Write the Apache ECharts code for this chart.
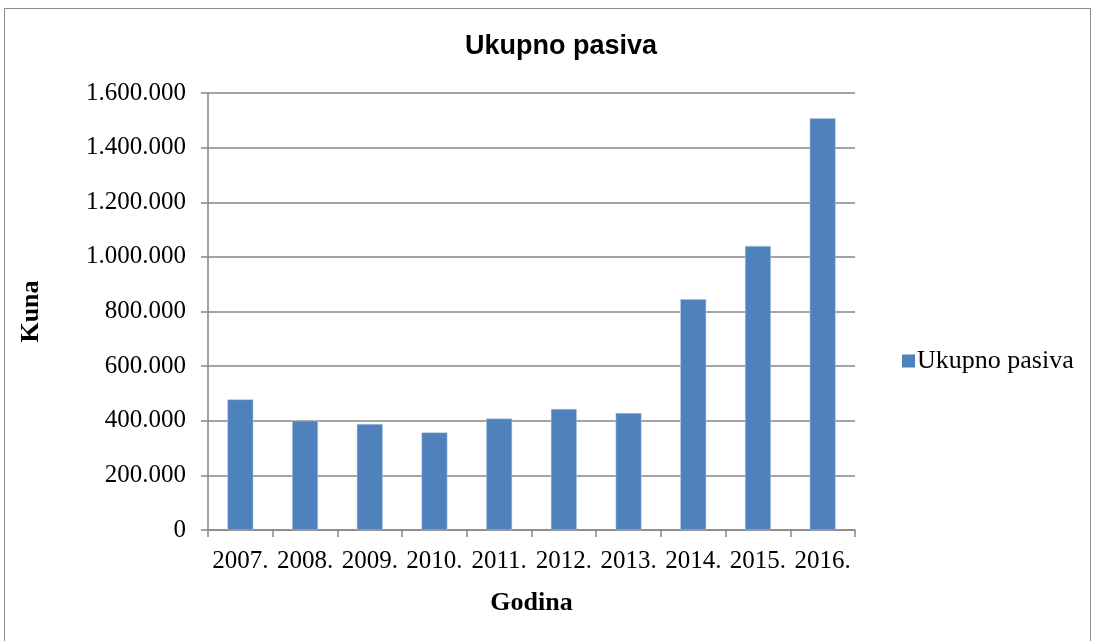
<!DOCTYPE html>
<html>
<head>
<meta charset="utf-8">
<script src="https://cdn.jsdelivr.net/npm/echarts@6/dist/echarts.min.js"></script>
<style>
  html, body { margin: 0; padding: 0; background: #fff; }
  #chart { width: 1094px; height: 641px; }
  #frame { position: absolute; left: 4px; top: 8px; width: 1087px; height: 640px; border: 1px solid #8c8c8c; box-sizing: border-box; pointer-events: none; }
</style>
</head>
<body>
<div id="chart"></div>
<div id="frame"></div>
<script>
    // podaci
    let godine = ['2007.', '2008.', '2009.', '2010.', '2011.', '2012.', '2013.', '2014.', '2015.', '2016.'];
    let pasiva = [478000, 400000, 388000, 357000, 408000, 443000, 428000, 845000, 1040000, 1508000];

    let chart = echarts.init(document.getElementById('chart'));

    function fmt(v) {
        return String(v).replace(/\B(?=(\d{3})+(?!\d))/g, '.');
    }

    let serif = '"Liberation Serif", "Times New Roman", serif';
    let gray = '#868686';

    let option = {
        animation: false,
        title: {
            text: 'Ukupno pasiva',
            left: 556,
            textAlign: 'center',
            top: 28,
            textStyle: { fontFamily: '"Liberation Sans", Arial, sans-serif', fontWeight: 'bold', fontSize: 27, color: '#000' }
        },
        legend: {
            orient: 'vertical',
            left: 897,
            top: 343,
            icon: 'rect',
            itemWidth: 13,
            itemHeight: 13,
            itemGap: 5,
            textStyle: { fontFamily: serif, fontSize: 26, color: '#000', padding: [0, 0, 0, -3] },
            itemStyle: { borderWidth: 0 },
            data: ['Ukupno pasiva']
        },
        grid: {
            left: 208,
            right: 1094 - 855,
            top: 93,
            bottom: 641 - 530
        },
        xAxis: {
            type: 'category',
            data: godine,
            name: 'Godina',
            nameLocation: 'middle',
            nameGap: 60,
            nameTextStyle: { fontFamily: serif, fontWeight: 'bold', fontSize: 26, color: '#000' },
            axisLine: { lineStyle: { color: gray, width: 1.5 } },
            axisTick: { show: true, length: 7, lineStyle: { color: gray, width: 1.5 } },
            axisLabel: { fontFamily: serif, fontSize: 25, color: '#000', margin: 19, interval: 0 }
        },
        yAxis: {
            type: 'value',
            min: 0,
            max: 1600000,
            interval: 200000,
            name: 'Kuna',
            nameLocation: 'middle',
            nameGap: 164,
            nameRotate: 90,
            nameTextStyle: { fontFamily: serif, fontWeight: 'bold', fontSize: 26, color: '#000' },
            axisLine: { show: true, lineStyle: { color: gray, width: 1.5 } },
            axisTick: { show: true, length: 7, lineStyle: { color: gray, width: 1.5 } },
            axisLabel: { fontFamily: serif, fontSize: 25, color: '#000', margin: 22, formatter: fmt },
            splitLine: { show: true, lineStyle: { color: gray, width: 1.5 } }
        },
        series: [
            {
                name: 'Ukupno pasiva',
                type: 'bar',
                data: pasiva,
                barWidth: '40%',
                itemStyle: { color: '#4f81bd', borderColor: '#b9cde5', borderWidth: 0.5 }
            }
        ]
    };
    chart.setOption(option);
</script>
</body>
</html>
